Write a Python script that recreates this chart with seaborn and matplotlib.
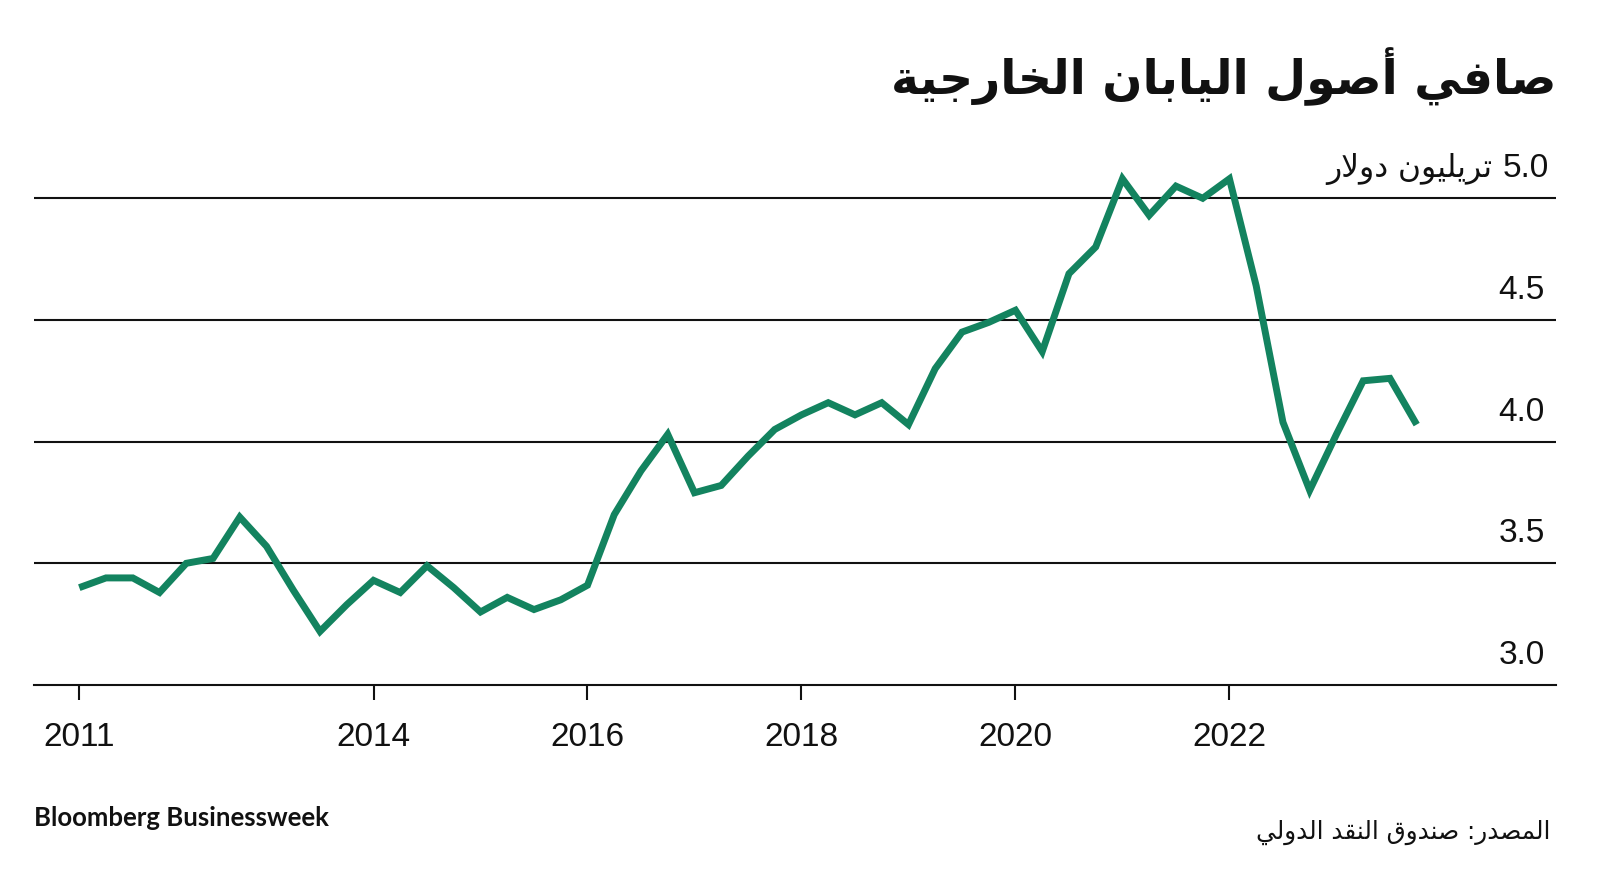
import numpy as np
import pandas as pd
import matplotlib
matplotlib.use("Agg")
import matplotlib.pyplot as plt
import matplotlib.transforms as mtransforms
import seaborn as sns

# ---------------- data ----------------
start_year = 2011.25          # first quarterly observation
values = [3.40, 3.44, 3.44, 3.38, 3.50, 3.52, 3.69, 3.57, 3.39, 3.22,
          3.33, 3.43, 3.38, 3.49, 3.40, 3.30, 3.36, 3.31, 3.35, 3.41,
          3.70, 3.88, 4.03, 3.79, 3.82, 3.94, 4.05, 4.11, 4.16, 4.11,
          4.16, 4.07, 4.30, 4.45, 4.49, 4.54, 4.37, 4.69, 4.80, 5.08,
          4.93, 5.05, 5.00, 5.08, 4.64, 4.08, 3.80, 4.03, 4.25, 4.26,
          4.07]
x_tick_pos = [2011.25, 2014, 2016, 2018, 2020, 2022]
x_tick_labels = ["2011", "2014", "2016", "2018", "2020", "2022"]
y_ticks = [3.0, 3.5, 4.0, 4.5, 5.0]
y_tick_labels = ["3.0", "3.5", "4.0", "4.5", "5.0"]
unit_label = "تريليون دولار"
title = "صافي أصول اليابان الخارجية"
source = "المصدر: صندوق النقد الدولي"
brand = "Bloomberg Businessweek"

GREEN = "#13835f"
INK = "#111111"

# ------------- simple Arabic shaping (matplotlib has no shaping) -------------
FORMS = {
    '\u0627': ('\uFE8D', '\uFE8E', None, None),
    '\u0623': ('\uFE83', '\uFE84', None, None),
    '\u0628': ('\uFE8F', '\uFE90', '\uFE91', '\uFE92'),
    '\u0629': ('\uFE93', '\uFE94', None, None),
    '\u062A': ('\uFE95', '\uFE96', '\uFE97', '\uFE98'),
    '\u062C': ('\uFE9D', '\uFE9E', '\uFE9F', '\uFEA0'),
    '\u062E': ('\uFEA5', '\uFEA6', '\uFEA7', '\uFEA8'),
    '\u062F': ('\uFEA9', '\uFEAA', None, None),
    '\u0631': ('\uFEAD', '\uFEAE', None, None),
    '\u0635': ('\uFEB9', '\uFEBA', '\uFEBB', '\uFEBC'),
    '\u0641': ('\uFED1', '\uFED2', '\uFED3', '\uFED4'),
    '\u0642': ('\uFED5', '\uFED6', '\uFED7', '\uFED8'),
    '\u0644': ('\uFEDD', '\uFEDE', '\uFEDF', '\uFEE0'),
    '\u0645': ('\uFEE1', '\uFEE2', '\uFEE3', '\uFEE4'),
    '\u0646': ('\uFEE5', '\uFEE6', '\uFEE7', '\uFEE8'),
    '\u0648': ('\uFEED', '\uFEEE', None, None),
    '\u064A': ('\uFEF1', '\uFEF2', '\uFEF3', '\uFEF4'),
}
LAM_ALEF = {'\u0627': ('\uFEFB', '\uFEFC'), '\u0623': ('\uFEF7', '\uFEF8')}


def shape(s):
    toks = []
    i = 0
    while i < len(s):
        c = s[i]
        if c == '\u0644' and i + 1 < len(s) and s[i + 1] in LAM_ALEF:
            toks.append(('LA', s[i + 1]))
            i += 2
        else:
            toks.append(('C', c))
            i += 1

    def is_ar(t):
        return t[0] == 'LA' or t[1] in FORMS

    def joins_left(t):
        if t[0] == 'LA':
            return False
        f = FORMS.get(t[1])
        return f is not None and f[2] is not None

    out = []
    for k, t in enumerate(toks):
        prev_j = k > 0 and joins_left(toks[k - 1]) and is_ar(t)
        next_j = k + 1 < len(toks) and is_ar(toks[k + 1]) and joins_left(t)
        if t[0] == 'LA':
            out.append(LAM_ALEF[t[1]][1] if prev_j else LAM_ALEF[t[1]][0])
        elif t[1] in FORMS:
            iso, fin, ini, med = FORMS[t[1]]
            if prev_j and next_j:
                out.append(med)
            elif prev_j:
                out.append(fin)
            elif next_j:
                out.append(ini)
            else:
                out.append(iso)
        else:
            out.append(t[1])
    return ''.join(out)[::-1]


# ---------------- figure ----------------
sns.set_theme(style="white")
plt.rcParams['font.family'] = ['Liberation Sans', 'DejaVu Sans']

df = pd.DataFrame({
    "x": start_year + 0.25 * np.arange(len(values)),
    "value": values,
})

fig = plt.figure(figsize=(16, 8.7), dpi=100)
fig.patch.set_facecolor("white")
ax = fig.add_axes([0.02106, 0.2115, 0.9517, 0.6154])
ax.set_facecolor("white")

sns.lineplot(data=df, x="x", y="value", ax=ax, color=GREEN, linewidth=5.0,
             solid_joinstyle="miter", solid_capstyle="butt", zorder=3)

ax.set_xlim(2010.824, 2025.056)
ax.set_ylim(3.0, 5.2)
ax.set_xlabel("")
ax.set_ylabel("")

for s in ["top", "left", "right"]:
    ax.spines[s].set_visible(False)
ax.spines["bottom"].set_color(INK)
ax.spines["bottom"].set_linewidth(1.5)

ax.set_yticks(y_ticks[1:])
ax.set_yticklabels([])
ax.tick_params(axis="y", length=0, left=False, right=False)
ax.yaxis.grid(True, color=INK, linewidth=1.5)
ax.xaxis.grid(False)
ax.set_axisbelow(True)

ax.set_xticks(x_tick_pos)
ax.set_xticklabels(x_tick_labels)
ax.tick_params(axis="x", bottom=True, length=11, width=1.5, color=INK,
               pad=15, labelsize=24, labelcolor=INK)

# right-side y labels sitting above each gridline
trans = mtransforms.offset_copy(ax.get_yaxis_transform(), fig=fig, y=15.8, units="points")
for v, lab in zip(y_ticks, y_tick_labels):
    if v == y_ticks[-1]:
        trans_top = mtransforms.offset_copy(ax.get_yaxis_transform(), fig=fig,
                                            x=3, y=15.8, units="points")
        ax.text(0.9925, v, lab, transform=trans_top, ha="right", va="baseline",
                fontsize=24, color=INK, family=['Liberation Sans'])
        trans_u = mtransforms.offset_copy(ax.get_yaxis_transform(), fig=fig,
                                          x=-38, y=15.8, units="points")
        ax.text(0.9925, v, shape(unit_label), transform=trans_u, ha="right",
                va="baseline", fontsize=22.5, color=INK, family=['DejaVu Sans'])
    else:
        ax.text(0.9925, v, lab, transform=trans, ha="right", va="baseline",
                fontsize=24, color=INK, family=['Liberation Sans'])

# title
fig.text(0.973, 0.892, shape(title), ha="right", va="baseline",
         fontsize=34, fontweight="bold", color=INK, family=['DejaVu Sans'])

# footer
fig.text(0.021, 0.05, brand, ha="left", va="baseline", fontsize=18.5,
         fontweight="bold", color=INK, family=['Lato', 'DejaVu Sans'])
fig.text(0.969, 0.0356, shape(source), ha="right", va="baseline", fontsize=17.8,
         color=INK, family=['DejaVu Sans'])

fig.savefig("out.png", dpi=100, facecolor="white")
